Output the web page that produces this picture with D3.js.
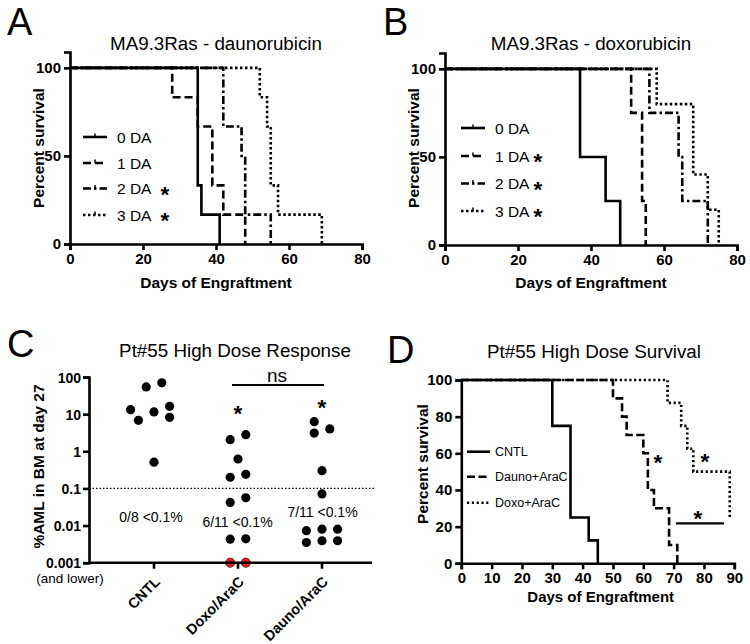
<!DOCTYPE html>
<html>
<head>
<meta charset="utf-8">
<script src="https://cdnjs.cloudflare.com/ajax/libs/d3/7.8.5/d3.min.js"></script>
<style>
  body { margin: 0; background: #fff; }
  svg { font-family: "Liberation Sans", Arial, sans-serif; }
</style>
</head>
<body>
<svg id="fig" width="750" height="644"></svg>
<script>
// ---- panel A : MA9.3Ras - daunorubicin (day, percent survival)
const aDA0 = [[0,100],[35,33.3],[36,16.7],[41,0]];
const aDA1 = [[0,100],[28,83.3],[35,66.7],[39,33.3],[42,16.7],[48,0]];
const aDA2 = [[0,100],[42,66.7],[47,50],[48,16.7],[55,0]];
const aDA3 = [[0,100],[52,83.3],[54,66.7],[55,33.3],[57,16.7],[69,0]];
// ---- panel B : MA9.3Ras - doxorubicin
const bDA0 = [[0,100],[37,50],[44,25],[48,0]];
const bDA1 = [[0,100],[51,75],[54,25],[55,0]];
const bDA2 = [[0,100],[56,75],[64,50],[65,25],[72,0]];
const bDA3 = [[0,100],[58,80],[68,40],[72,20],[75,0]];
const daLabels = ["0 DA","1 DA","2 DA","3 DA"];
const aStars = [false,false,true,true];
const bStars = [false,true,true,true];

// ---- panel C : %AML in BM at day 27
const cCats = ["CNTL","Doxo/AraC","Dauno/AraC"];
const cntlAML  = [54, 69.5, 13.2, 11.5, 16.2, 6.8, 8.2, 0.51];
const cntlSlot = [-1, 1, -3, 0, 2, -2, 2, 0];
const doxoAML  = [2.05, 2.8, 0.62, 0.2, 0.24, 0.042, 0.056, 0.0043, 0.0044, 0.001, 0.001];
const doxoSlot = [-1, 1, 0, -1, 1, -1, 1, -1, 1, -1, 1];
const daunoAML  = [6.27, 3.1, 4.0, 0.30, 0.071, 0.0073, 0.008, 0.008, 0.0035, 0.0039, 0.0039];
const daunoSlot = [-1, -1, 1, 0, 0, -2, 0, 2, -2, 0, 2];
const cTicks = [0.001, 0.01, 0.1, 1, 10, 100];
const cTickLabels = ["0.001","0.01","0.1","1","10","100"];
const cCounts = ["0/8 <0.1%","6/11 <0.1%","7/11 <0.1%"];

// ---- panel D : Pt#55 High Dose Survival
const dCntl  = [[0,100],[30,75],[36,25],[42,12.5],[45,0]];
const dDauno = [[0,100],[50,90],[53,80],[54.5,70],[60,60],[61.5,40],[63.5,30],[68.5,10],[71.2,0]];
const dDoxo  = [[0,100],[68,87.5],[72.5,75],[74.5,62.5],[76.5,50],[88.5,25]];
const dLabels = ["CNTL","Dauno+AraC","Doxo+AraC"];

const svg = d3.select("#fig");
const dashes = [null, "8,4", "8,3,2.5,3", "2.5,2.5"];
const lw = 2.6;

const styleAxis = (g, fs) => {
    g.attr("font-family", null).attr("font-size", null);
    g.select(".domain").attr("stroke-width", lw).attr("stroke", "#000");
    g.selectAll(".tick line").attr("stroke-width", lw).attr("stroke", "#000");
    g.selectAll(".tick text").style("font-size", fs + "px").style("font-weight", "bold").attr("fill", "#000");
}

const addText = (x, y, txt, size, opts = {}) => {
    const t = svg.append("text")
        .attr("x", x).attr("y", y)
        .style("font-size", size + "px")
        .attr("text-anchor", opts.anchor || "start")
        .attr("fill", opts.fill || "#000")
        .text(txt);
    if (opts.bold) t.style("font-weight", "bold");
    if (opts.rotate) t.attr("transform", "rotate(" + opts.rotate + "," + x + "," + y + ")");
    return t;
}

// asterisk centred on (x,y)
const star = (x, y) => addText(x, y + 13, "*", 22.5, {anchor: "middle", bold: true});

const kmLine = (x, y) => d3.line().x(d => x(d[0])).y(d => y(d[1])).curve(d3.curveStepAfter);

const drawKMPanel = (cfg) => {
    const x = d3.scaleLinear().domain(cfg.xDomain).range(cfg.xRange);
    const y = d3.scaleLinear().domain(cfg.yDomain).range(cfg.yRange);
    const line = kmLine(x, y);
    // draw last series first so the solid line sits on top
    cfg.series.slice().reverse().forEach((s, j) => {
        const i = cfg.series.length - 1 - j;
        svg.append("path")
            .datum(s)
            .attr("d", line)
            .attr("fill", "none")
            .attr("stroke", "#000")
            .attr("stroke-width", lw)
            .attr("stroke-dasharray", cfg.dash[i]);
    });
    const gx = svg.append("g")
        .attr("transform", "translate(0," + cfg.yRange[0] + ")")
        .call(d3.axisBottom(x).tickValues(cfg.xTicks).tickSizeOuter(0).tickSize(6).tickFormat(d3.format("d")));
    styleAxis(gx, 15);
    const gy = svg.append("g")
        .attr("transform", "translate(" + cfg.xRange[0] + ",0)")
        .call(d3.axisLeft(y).tickValues(cfg.yTicks).tickSizeOuter(0).tickSize(6).tickFormat(d3.format("d")));
    styleAxis(gy, 15);
    return {x, y};
}

// ================= A =================
addText(7, 35, "A", 38);
addText(216, 50, "MA9.3Ras - daunorubicin", 18.8, {anchor: "middle"});
drawKMPanel({
    series: [aDA0, aDA1, aDA2, aDA3], dash: dashes,
    xDomain: [0, 80], xRange: [70, 362], yDomain: [0, 109], yRange: [244, 52],
    xTicks: [0, 20, 40, 60, 80], yTicks: [0, 50, 100]
});
addText(216, 288, "Days of Engraftment", 15.5, {anchor: "middle", bold: true});
addText(44, 148, "Percent survival", 15.5, {anchor: "middle", bold: true, rotate: -90});

const drawLegend = (x0, x1, tx, ys, labels, dash, stars, starX, size, tick) => {
    labels.forEach((lab, i) => {
        svg.append("line")
            .attr("x1", x0).attr("x2", x1).attr("y1", ys[i]).attr("y2", ys[i])
            .attr("stroke", "#000").attr("stroke-width", lw)
            .attr("stroke-dasharray", dash[i]);
        if (tick) {
            svg.append("line")
                .attr("x1", (x0 + x1) / 2).attr("x2", (x0 + x1) / 2)
                .attr("y1", ys[i] - 3.5).attr("y2", ys[i])
                .attr("stroke", "#000").attr("stroke-width", 1.5);
        }
        addText(tx, ys[i] + size * 0.36, lab, size);
        if (stars && stars[i]) star(starX, ys[i]);
    });
}
drawLegend(83, 107, 117, [137, 163, 188.5, 215], daLabels, dashes, aStars, 165, 15.5, true);

// ================= B =================
addText(383, 35, "B", 38);
addText(591, 50, "MA9.3Ras - doxorubicin", 18.8, {anchor: "middle"});
drawKMPanel({
    series: [bDA0, bDA1, bDA2, bDA3], dash: dashes,
    xDomain: [0, 80], xRange: [445, 737], yDomain: [0, 109], yRange: [245, 53],
    xTicks: [0, 20, 40, 60, 80], yTicks: [0, 50, 100]
});
addText(591, 288, "Days of Engraftment", 15.5, {anchor: "middle", bold: true});
addText(419, 148, "Percent survival", 15.5, {anchor: "middle", bold: true, rotate: -90});
drawLegend(461, 485, 495, [128, 156, 183.5, 211], daLabels, dashes, bStars, 538, 15.5, true);

// ================= C =================
addText(7, 357, "C", 38);
addText(235, 357, "Pt#55 High Dose Response", 18.8, {anchor: "middle"});
const xC = d3.scalePoint().domain(cCats).range([154, 322]);
const yC = d3.scaleLog().domain([0.001, 100]).range([562.7, 377]);
const slot = d3.scaleLinear().domain([-1, 1]).range([-7.8, 7.8]);

svg.append("line")
    .attr("x1", 89).attr("x2", 375).attr("y1", yC(0.1)).attr("y2", yC(0.1))
    .attr("stroke", "#000").attr("stroke-width", 1.4).attr("stroke-dasharray", "1.5,2");

const groups = [[cntlAML, cntlSlot], [doxoAML, doxoSlot], [daunoAML, daunoSlot]];
groups.forEach((g, gi) => {
    const pts = g[0].map((v, i) => ({v: v, s: g[1][i]}));
    svg.append("g").selectAll("circle")
        .data(pts)
        .enter()
        .append("circle")
        .attr("cx", d => xC(cCats[gi]) + slot(d.s))
        .attr("cy", d => yC(d.v))
        .attr("r", 4.6)
        .attr("fill", d => d.v <= 0.001 ? "#e0201c" : "#000")
        .attr("stroke", d => d.v <= 0.001 ? "#5a1010" : "none")
        .attr("stroke-width", 0.8);
});

const gyC = svg.append("g")
    .attr("transform", "translate(89,0)")
    .call(d3.axisLeft(yC).tickValues(cTicks).tickSizeOuter(0).tickSize(6).tickPadding(2)
        .tickFormat((d, i) => cTickLabels[i]));
styleAxis(gyC, 14);
gyC.selectAll(".tick text").attr("dy", "0.36em");
svg.append("line")
    .attr("x1", 89).attr("x2", 372).attr("y1", yC(0.001)).attr("y2", yC(0.001))
    .attr("stroke", "#000").attr("stroke-width", lw);
cCats.forEach(c => {
    svg.append("line")
        .attr("x1", xC(c)).attr("x2", xC(c)).attr("y1", yC(0.001)).attr("y2", yC(0.001) + 6)
        .attr("stroke", "#000").attr("stroke-width", lw);
    addText(xC(c) + 7, yC(0.001) + 20, c, 14.5, {anchor: "end", bold: true, rotate: -45});
});
addText(70, 583, "(and lower)", 13.5, {anchor: "middle"});
addText(44, 466.5, "%AML in BM at day 27", 15.5, {anchor: "middle", bold: true, rotate: -90});

addText(151, 521.7, cCounts[0], 14, {anchor: "middle"});
addText(237.5, 526.7, cCounts[1], 14, {anchor: "middle"});
addText(322.5, 517.3, cCounts[2], 14, {anchor: "middle"});

svg.append("line")
    .attr("x1", xC("Doxo/AraC") - 6).attr("x2", xC("Dauno/AraC") + 2)
    .attr("y1", yC(61)).attr("y2", yC(61))
    .attr("stroke", "#000").attr("stroke-width", 2);
addText(277, 381.7, "ns", 19, {anchor: "middle"});
star(xC("Doxo/AraC"), yC(14.7));
star(xC("Dauno/AraC"), yC(20.8));

// ================= D =================
addText(387, 363, "D", 38);
addText(594, 358, "Pt#55 High Dose Survival", 18.8, {anchor: "middle"});
const dScales = drawKMPanel({
    series: [dCntl, dDauno, dDoxo], dash: [null, "8,3.5", "2.2,2.6"],
    xDomain: [0, 90], xRange: [461.3, 734.3], yDomain: [0, 100], yRange: [563.3, 380],
    xTicks: d3.range(0, 91, 10), yTicks: d3.range(0, 101, 20)
});
addText(600.7, 602, "Days of Engraftment", 15, {anchor: "middle", bold: true});
addText(428, 464, "Percent survival", 15.5, {anchor: "middle", bold: true, rotate: -90});
drawLegend(467, 490, 495, [451.7, 476.7, 502.7], dLabels, [null, "8,3.5", "2.2,2.6"], null, 0, 12.5, false);

star(dScales.x(64.8), dScales.y(58.2));
star(dScales.x(80.3), dScales.y(58.5));
star(dScales.x(78), dScales.y(27.4));
svg.append("line")
    .attr("x1", dScales.x(70.8)).attr("x2", dScales.x(86.6))
    .attr("y1", dScales.y(21.8)).attr("y2", dScales.y(21.8))
    .attr("stroke", "#000").attr("stroke-width", 2.4);
</script>
</body>
</html>
